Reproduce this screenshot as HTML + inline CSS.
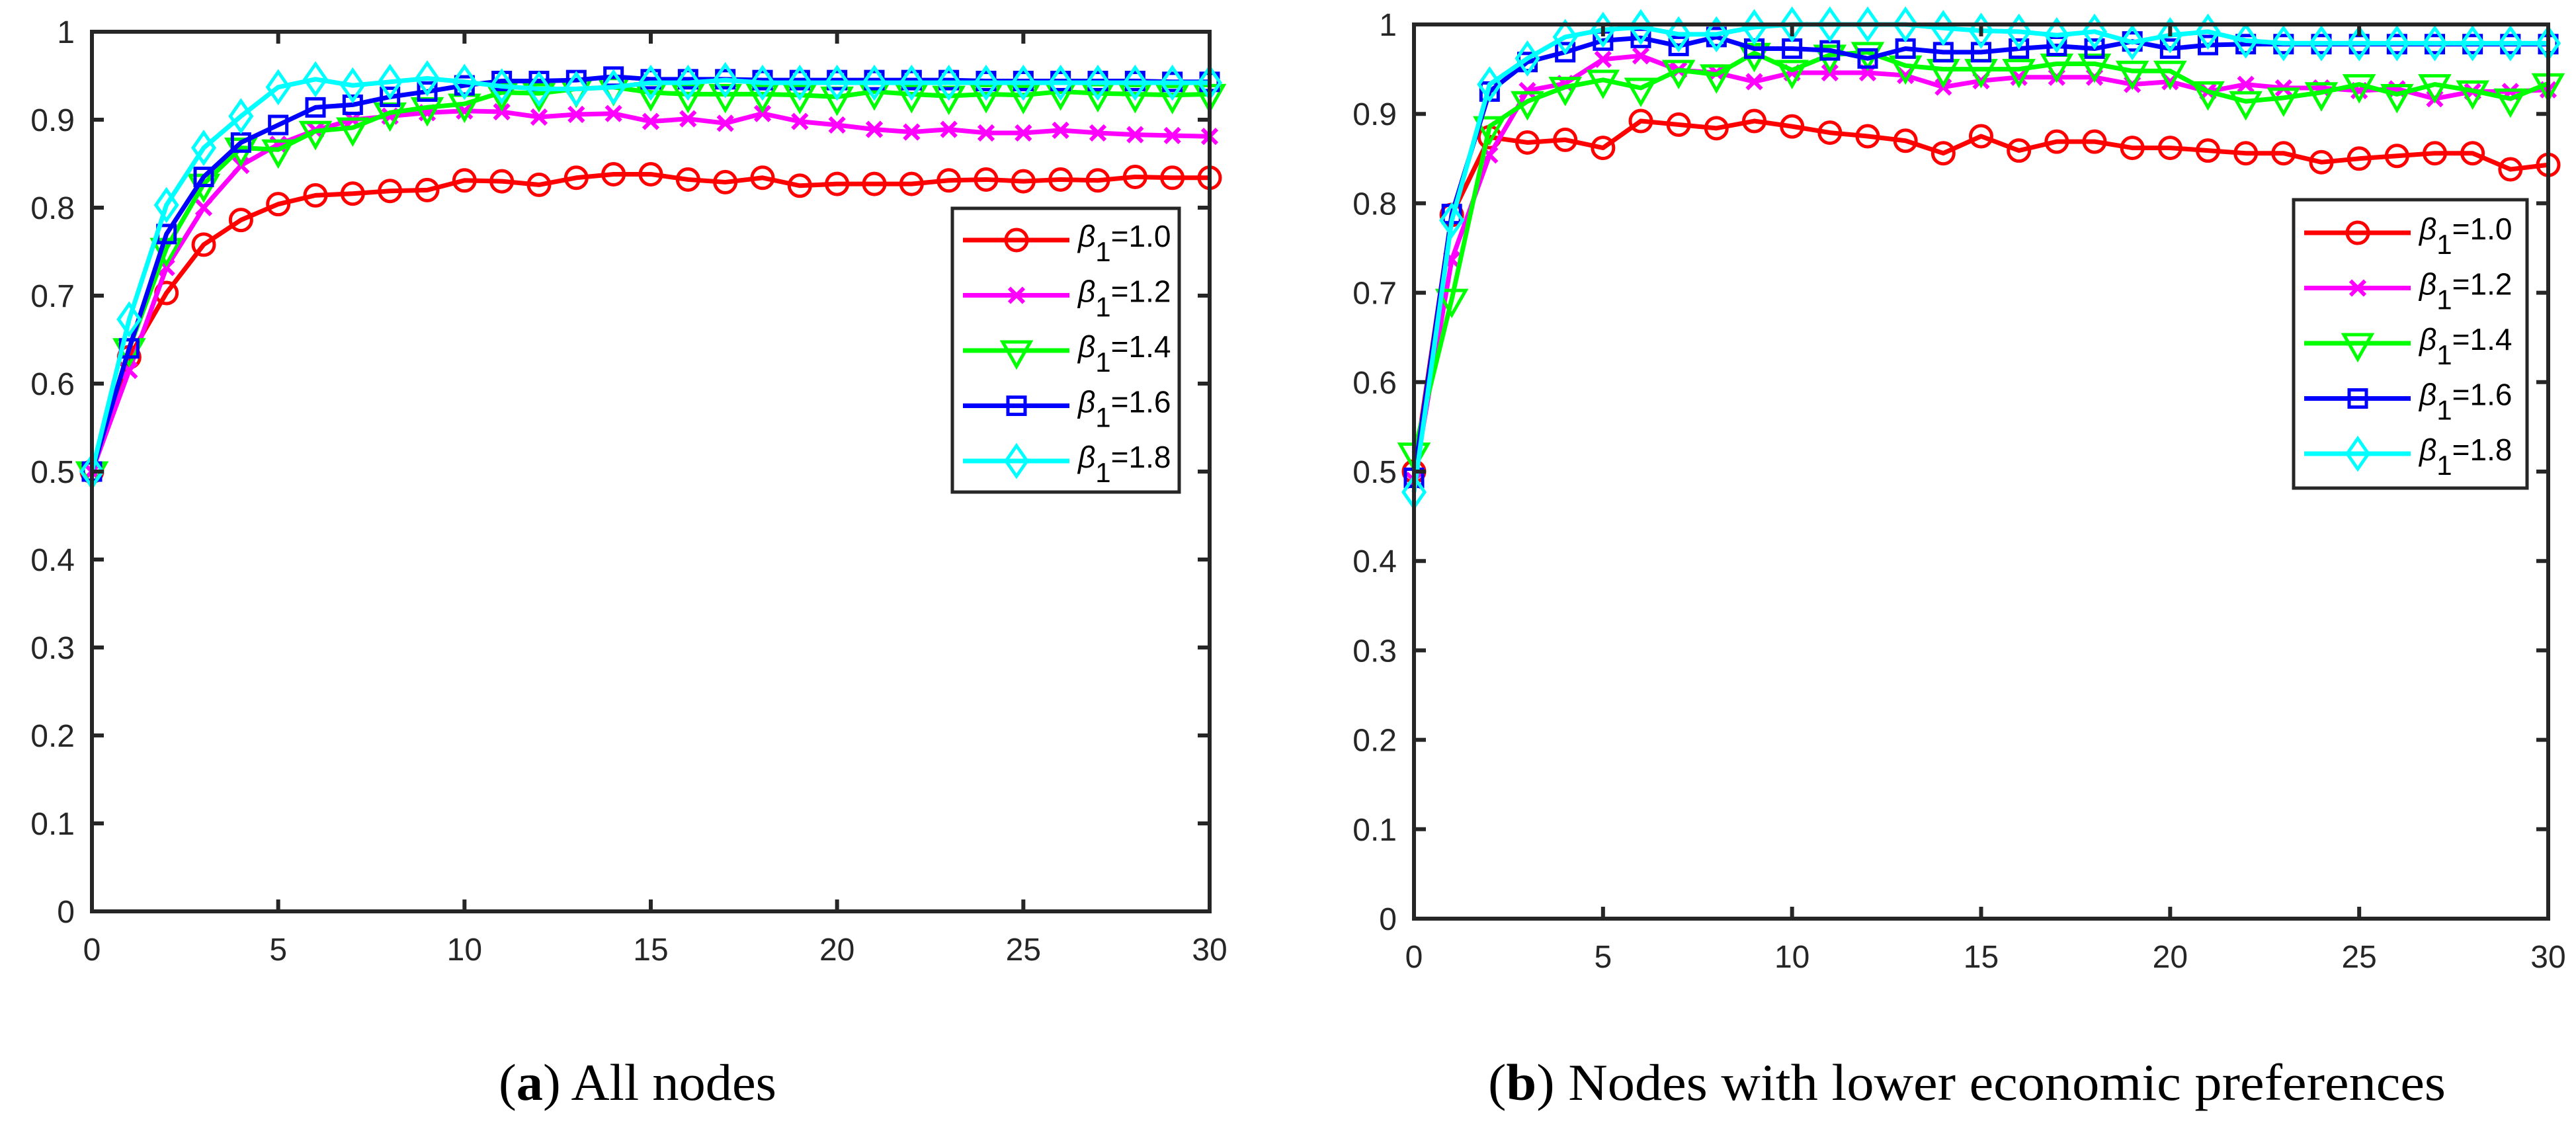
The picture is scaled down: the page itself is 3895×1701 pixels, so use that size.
<!DOCTYPE html>
<html><head><meta charset="utf-8">
<style>
html,body{margin:0;padding:0;background:#fff;}
svg{display:block;}
.tick{font-family:"Liberation Sans",sans-serif;font-size:48px;fill:#262626;}
.leg{font-family:"Liberation Sans",sans-serif;font-size:46px;fill:#000;}
.cap{font-family:"Liberation Serif",serif;font-size:78px;fill:#000;}
</style></head>
<body>
<svg id="fig" width="3895" height="1701" viewBox="0 0 3895 1701" xmlns="http://www.w3.org/2000/svg">
<text class="cap" x="754" y="1663" textLength="420" lengthAdjust="spacingAndGlyphs">(<tspan font-weight="bold">a</tspan>) All nodes</text>
<text class="cap" x="2250" y="1663" textLength="1448" lengthAdjust="spacingAndGlyphs">(<tspan font-weight="bold">b</tspan>) Nodes with lower economic preferences</text>
</svg>
<script>
const xTicks = [0,5,10,15,20,25,30];
const yTicks = [0,0.1,0.2,0.3,0.4,0.5,0.6,0.7,0.8,0.9,1];
const yTickLabels = ["0","0.1","0.2","0.3","0.4","0.5","0.6","0.7","0.8","0.9","1"];
const seriesNames = ["1.0","1.2","1.4","1.6","1.8"];
const aB10 = [0.5,0.63,0.703,0.758,0.786,0.804,0.814,0.816,0.819,0.82,0.831,0.83,0.826,0.834,0.838,0.838,0.832,0.829,0.834,0.825,0.827,0.827,0.827,0.831,0.832,0.83,0.832,0.831,0.835,0.834,0.834];
const aB12 = [0.5,0.615,0.732,0.8,0.848,0.872,0.888,0.9,0.904,0.908,0.91,0.909,0.903,0.906,0.907,0.898,0.901,0.896,0.907,0.898,0.894,0.889,0.886,0.889,0.885,0.885,0.888,0.885,0.883,0.882,0.881];
const aB14 = [0.5,0.64,0.754,0.827,0.868,0.866,0.887,0.891,0.908,0.914,0.918,0.931,0.93,0.935,0.937,0.931,0.929,0.929,0.929,0.928,0.926,0.932,0.929,0.927,0.929,0.928,0.932,0.93,0.929,0.928,0.929];
const aB16 = [0.5,0.64,0.77,0.835,0.874,0.894,0.914,0.917,0.926,0.932,0.939,0.944,0.944,0.945,0.949,0.946,0.946,0.946,0.945,0.945,0.945,0.945,0.945,0.945,0.944,0.944,0.944,0.944,0.944,0.943,0.943];
const aB18 = [0.5,0.673,0.803,0.868,0.904,0.937,0.946,0.939,0.943,0.947,0.943,0.938,0.935,0.935,0.937,0.942,0.942,0.945,0.942,0.942,0.942,0.942,0.942,0.942,0.942,0.942,0.942,0.942,0.942,0.942,0.942];
const bB10 = [0.5,0.787,0.874,0.868,0.871,0.862,0.892,0.888,0.884,0.892,0.886,0.879,0.875,0.87,0.856,0.875,0.859,0.869,0.869,0.862,0.862,0.859,0.856,0.856,0.846,0.85,0.853,0.856,0.856,0.838,0.843];
const bB12 = [0.49,0.737,0.854,0.926,0.934,0.961,0.965,0.949,0.946,0.936,0.946,0.946,0.946,0.943,0.93,0.937,0.941,0.941,0.941,0.933,0.936,0.925,0.933,0.929,0.929,0.926,0.928,0.917,0.925,0.925,0.927];
const bB14 = [0.521,0.693,0.886,0.914,0.93,0.938,0.929,0.949,0.944,0.968,0.949,0.966,0.969,0.954,0.95,0.95,0.95,0.956,0.956,0.948,0.948,0.925,0.914,0.918,0.924,0.933,0.922,0.933,0.926,0.917,0.934];
const bB16 = [0.493,0.788,0.925,0.958,0.969,0.982,0.985,0.976,0.986,0.973,0.973,0.971,0.962,0.973,0.969,0.969,0.973,0.976,0.973,0.981,0.973,0.977,0.978,0.978,0.978,0.978,0.978,0.978,0.978,0.978,0.978];
const bB18 = [0.477,0.781,0.933,0.962,0.986,0.994,0.997,0.989,0.989,0.997,1.0,1.0,1.0,1.0,0.996,0.993,0.992,0.988,0.992,0.98,0.988,0.992,0.982,0.979,0.979,0.979,0.979,0.979,0.979,0.979,0.979];

const NS='http://www.w3.org/2000/svg';
const svg=document.getElementById('fig');
const colors=['#ff0000','#ff00ff','#00ff00','#0000ff','#00ffff'];
const markers=['circle','x','tri','square','diamond'];
function mk(tag,attrs,parent){const e=document.createElementNS(NS,tag);for(const k in attrs)e.setAttribute(k,attrs[k]);(parent||svg).appendChild(e);return e;}
function marker(g,type,cx,cy,col){
  let e;
  if(type==='circle'){e=mk('circle',{cx:cx,cy:cy,r:16,fill:'none',stroke:col,'stroke-width':5},g);}
  else if(type==='x'){e=mk('path',{d:`M${cx-11},${cy-11}L${cx+11},${cy+11}M${cx-11},${cy+11}L${cx+11},${cy-11}`,stroke:col,'stroke-width':6,fill:'none'},g);}
  else if(type==='tri'){e=mk('path',{d:`M${cx-21},${cy-13}L${cx+21},${cy-13}L${cx},${cy+24}Z`,stroke:col,'stroke-width':5,fill:'none'},g);}
  else if(type==='square'){e=mk('rect',{x:cx-13,y:cy-13,width:26,height:26,stroke:col,'stroke-width':5,fill:'none'},g);}
  else {e=mk('path',{d:`M${cx},${cy-23}L${cx+16},${cy}L${cx},${cy+23}L${cx-16},${cy}Z`,stroke:col,'stroke-width':5,fill:'none'},g);}
  
  
}
function chart(id,L,R,T,B,series,leg){
  const g=mk('g',{});
  
  
  const xs=v=>L+(R-L)*v/30, ys=v=>B-(B-T)*v;
  series.forEach((s,i)=>{
    const sg=mk('g',{},g);
    
    
    const pts=s.map((v,k)=>xs(k)+','+ys(v)).join(' ');
    const pl=mk('polyline',{points:pts,fill:'none',stroke:colors[i],'stroke-width':7,'stroke-linejoin':'round'},sg);
    
    
    s.forEach((v,k)=>marker(sg,markers[i],xs(k),ys(v),colors[i]));
  });
  const box=mk('rect',{x:L,y:T,width:R-L,height:B-T,fill:'none',stroke:'#262626','stroke-width':6},g);
  
  
  yTicks.forEach((v,i)=>{
    const y=ys(v);
    const t=mk('path',{d:`M${L},${y}H${L+18}M${R},${y}H${R-18}`,stroke:'#262626','stroke-width':6},g);
    
    
    const tx=mk('text',{x:L-26,y:y+17,'text-anchor':'end',class:'tick'},g);
    tx.textContent=yTickLabels[i];
    
    
  });
  xTicks.forEach(v=>{
    const x=xs(v);
    const t=mk('path',{d:`M${x},${B}V${B-18}M${x},${T}V${T+18}`,stroke:'#262626','stroke-width':6},g);
    
    
    const tx=mk('text',{x:x,y:B+74,'text-anchor':'middle',class:'tick'},g);
    tx.textContent=String(v);
    
    
  });
  const lg=mk('g',{},g);
  
  
  const lb=mk('rect',{x:leg.x,y:leg.y,width:leg.w,height:leg.h,fill:'#fff',stroke:'#262626','stroke-width':5},lg);
  
  
  seriesNames.forEach((n,i)=>{
    const eg=mk('g',{},lg);
    
    
    const y=leg.y+leg.first+i*83.5;
    const x0=leg.x+16;
    mk('line',{x1:x0,y1:y,x2:x0+161,y2:y,stroke:colors[i],'stroke-width':7},eg);
    marker(eg,markers[i],x0+81,y,colors[i]);
    const t=mk('text',{x:x0+174,y:y+10,class:'leg'},eg);
    t.innerHTML='<tspan font-style="italic">β</tspan><tspan dy="22" font-size="42">1</tspan><tspan dy="-22">=</tspan>'+n;
  });
}
chart('a',139,1829,48,1378,[aB10,aB12,aB14,aB16,aB18],{x:1440,y:315,w:343,h:429,first:48});
chart('b',2138,3853,37,1389,[bB10,bB12,bB14,bB16,bB18],{x:3468,y:302,w:353,h:436,first:50});
</script>
</body></html>
